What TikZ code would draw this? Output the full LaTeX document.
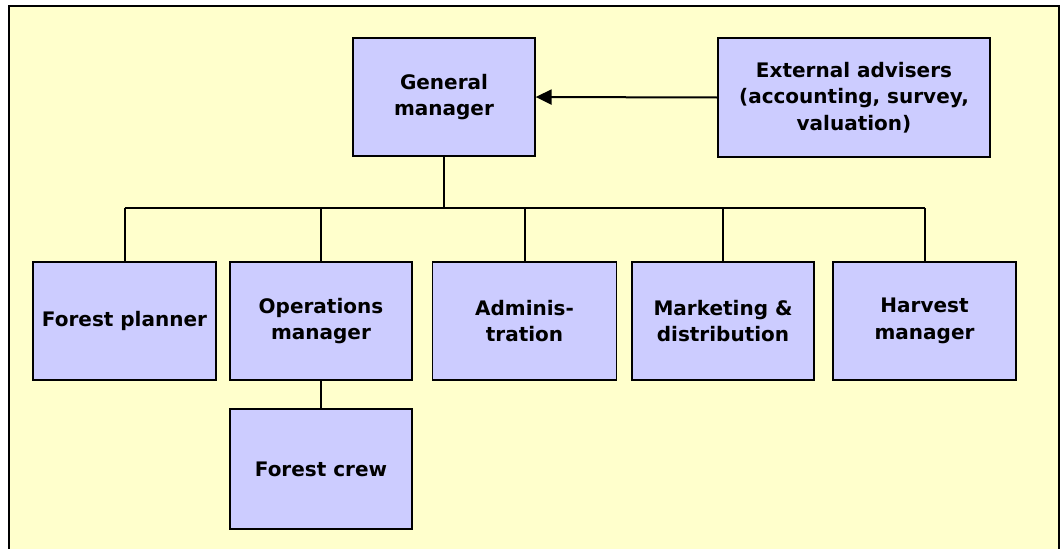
\documentclass[tikz,border=0pt]{standalone}
\usepackage{fontspec}
\setmainfont{DejaVu Sans}
\usetikzlibrary{arrows.meta}
\definecolor{bgyellow}{HTML}{FFFFCC}
\definecolor{boxblue}{HTML}{CCCCFF}
\begin{document}
\begin{tikzpicture}[x=1pt,y=-1pt,
  box/.style={draw=black, line width=1.3pt, fill=boxblue,
    font=\bfseries\fontsize{20}{26.5}\selectfont, align=center, inner sep=0pt,
    minimum width=182pt, minimum height=118pt},
  conn/.style={line width=2pt}]
\useasboundingbox (0,0) rectangle (1061,549);
\fill[white] (0,0) rectangle (1061,549);
\draw[line width=2.5pt, fill=bgyellow] (9,6) rectangle (1059,580);

\node[box] (gm) at (444,97) {General\\manager};
\node[box, minimum width=272pt, minimum height=119pt] (ext) at (854,97.5) {External advisers\\(accounting, survey,\\valuation)};
\node[box, minimum width=183pt] (fp) at (124.5,321) {Forest planner};
\node[box] (ops) at (321,321) {Operations\\manager};
\node[box, minimum width=184pt] (adm) at (524.5,321) {Adminis-\\tration};
\node[box] (mkt) at (723,321) {Marketing \&\\distribution};
\node[box, minimum width=183pt] (hv) at (924.5,321) {Harvest\\manager};
\node[box, minimum height=120pt] (crew) at (321,469) {Forest crew};

\coordinate (bus) at (444,208);
\draw[conn] (gm.south) -- (bus);
\draw[conn] (fp.north |- bus) -- (hv.north |- bus);
\foreach \n in {fp,ops,adm,mkt,hv} \draw[conn] (\n.north |- bus) -- (\n.north);
\draw[conn] (ops.south) -- (crew.north);
\draw[conn, -{Triangle[length=16pt,width=15pt]}] (ext.west) -- (gm.east);
\end{tikzpicture}
\end{document}
